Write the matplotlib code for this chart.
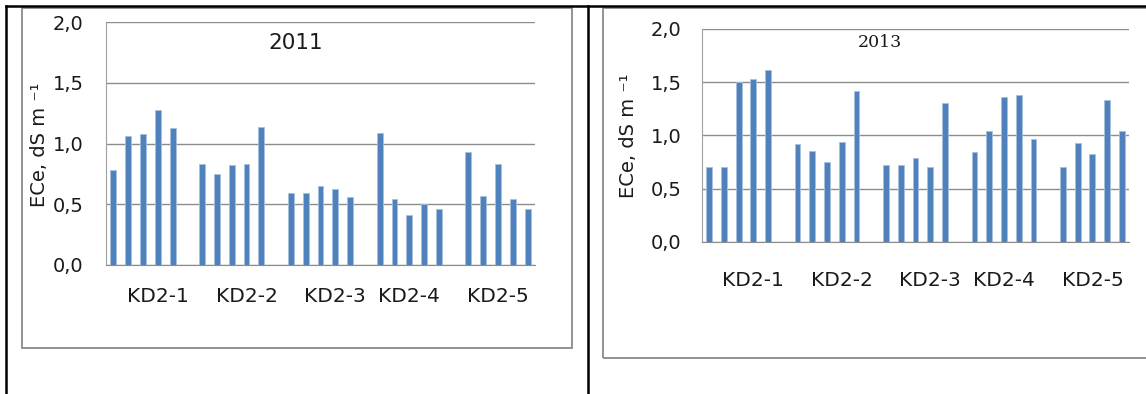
"""ECe per parcel (KD2-1 ... KD2-5), 2011 and 2013, two Excel-style column charts."""

import matplotlib.pyplot as plt
from matplotlib.lines import Line2D
from matplotlib.patches import Rectangle

W, H = 1146, 394

plots = ["KD2-1", "KD2-2", "KD2-3", "KD2-4", "KD2-5"]

ece_2011 = [
    [0.78, 1.06, 1.08, 1.28, 1.13],
    [0.83, 0.75, 0.82, 0.83, 1.14],
    [0.59, 0.59, 0.65, 0.63, 0.56],
    [1.09, 0.54, 0.41, 0.50, 0.46],
    [0.93, 0.57, 0.83, 0.54, 0.46],
]

ece_2013 = [
    [0.70, 0.70, 1.50, 1.53, 1.61],
    [0.92, 0.85, 0.75, 0.94, 1.42],
    [0.72, 0.72, 0.79, 0.70, 1.30],
    [0.84, 1.04, 1.36, 1.38, 0.97],
    [0.70, 0.93, 0.82, 1.33, 1.04],
]

# category axis as in the worksheet: 5 bars, one blank cell, 5 bars ...
categories = ["", "", "", "KD2-1", "", "",
              "", "", "", "KD2-2", "", "",
              "", "", "", "KD2-3", "", "",
              "", "", "KD2-4", "", "", "",
              "", "", "KD2-5", "", ""]

y_ticks = [0.0, 0.5, 1.0, 1.5, 2.0]

BLUE = "#4f81bd"
GRID = "#8c8c8c"
YLABEL = "ECe, dS m \u207b\u00b9"


def px_rect(x0, y0, x1, y1):
    """Pixel box (top-left origin) to figure fraction [l, b, w, h]."""
    return [x0 / W, 1 - y1 / H, (x1 - x0) / W, (y1 - y0) / H]


def draw_panel(ax, data, title, title_xy, title_font, ypad, xpad):
    n_per = len(data[0])
    xs, hs = [], []
    for g, vals in enumerate(data):
        for j, v in enumerate(vals):
            xs.append(g * (n_per + 1) + j)
            hs.append(v)
    ax.bar(xs, hs, width=0.4, color=BLUE, edgecolor="#a7c0de",
           linewidth=0.6, zorder=3)

    ax.set_xlim(-0.5, len(categories) - 0.5)
    ax.set_ylim(0, 2.0)
    ax.set_xticks(range(len(categories)), categories)
    ax.set_yticks(y_ticks, [f"{v:.1f}".replace(".", ",") for v in y_ticks])
    ax.tick_params(axis="both", length=0, colors="#1a1a1a")
    ax.tick_params(axis="y", pad=ypad, labelsize=14)
    ax.tick_params(axis="x", pad=xpad, labelsize=14.5)
    ax.yaxis.grid(True, color=GRID, linewidth=1.0, zorder=0)
    ax.set_axisbelow(True)
    for side in ["top", "right"]:
        ax.spines[side].set_visible(False)
    ax.spines["left"].set_color("#a0a0a0")
    ax.spines["bottom"].set_color(GRID)
    ax.text(title_xy[0], title_xy[1], title, transform=ax.transAxes,
            ha="center", va="center", **title_font)


fig = plt.figure(figsize=(W / 100, H / 100), dpi=100)

# chart frames
fig.patches.append(Rectangle((21.7 / W, 1 - 348 / H), 550 / W, 340 / H,
                             transform=fig.transFigure, fill=False,
                             edgecolor="#8a8a8a", linewidth=1.3))
fig.patches.append(Rectangle((602.7 / W, 1 - 358 / H), 560 / W, 350 / H,
                             transform=fig.transFigure, fill=False,
                             edgecolor="#8a8a8a", linewidth=1.3))

ax1 = fig.add_axes(px_rect(106, 22.3, 535, 265))
draw_panel(ax1, ece_2011, "2011", (0.443, 0.913),
           dict(fontsize=15.5, family="DejaVu Sans", color="#1a1a1a"),
           ypad=16, xpad=16)
fig.text(39.7 / W, 1 - 144.5 / H, YLABEL, rotation=90,
         ha="center", va="center", fontsize=14, color="#1a1a1a")

ax2 = fig.add_axes(px_rect(701.7, 29, 1129.3, 241.7))
draw_panel(ax2, ece_2013, "2013", (0.418, 0.937),
           dict(fontsize=12.5, family="DejaVu Serif", color="#1a1a1a"),
           ypad=14.5, xpad=21)
fig.text(628.3 / W, 1 - 136 / H, YLABEL, rotation=90,
         ha="center", va="center", fontsize=14, color="#1a1a1a")

# table borders of the page
for xd, yd in [((6 / W, 1), (1 - 6 / H, 1 - 6 / H)),
               ((6 / W, 6 / W), (0, 1 - 6 / H)),
               ((588 / W, 588 / W), (0, 1 - 6 / H))]:
    fig.add_artist(Line2D(xd, yd, transform=fig.transFigure,
                          color="black", linewidth=1.8))

fig.savefig("out.png", dpi=100)
